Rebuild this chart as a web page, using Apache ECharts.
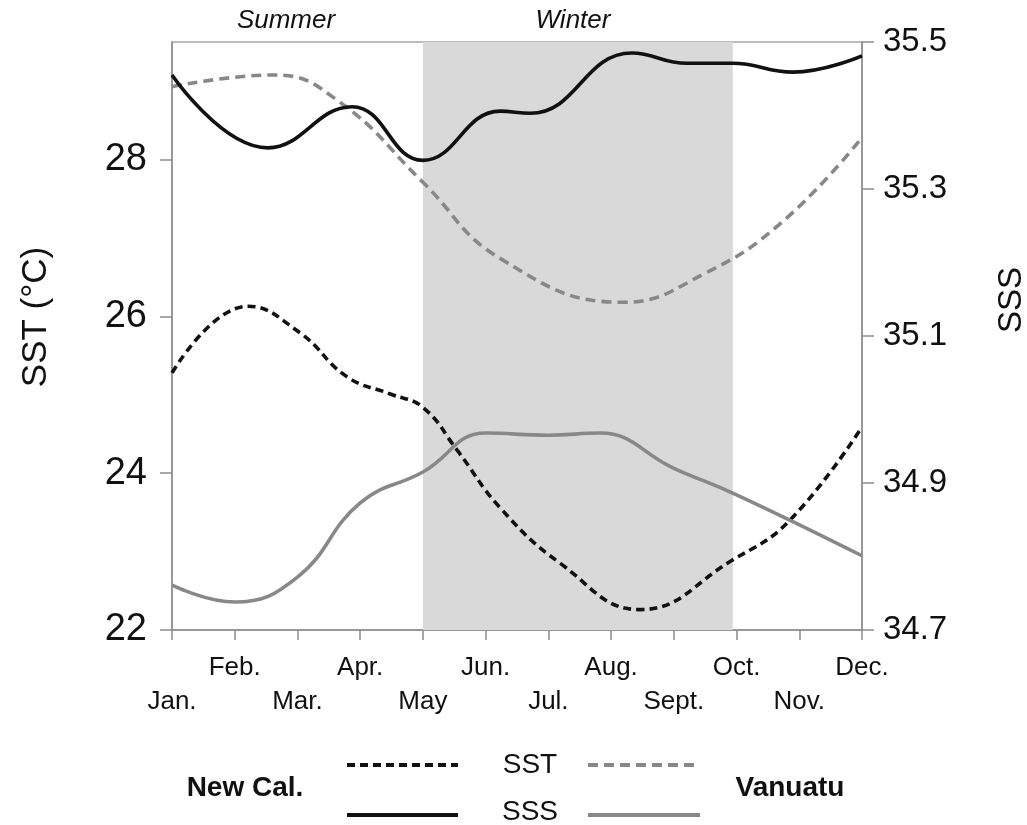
<!DOCTYPE html>
<html>
<head>
<meta charset="utf-8">
<title>SST / SSS</title>
<script src="https://cdn.jsdelivr.net/npm/echarts@6/dist/echarts.min.js"></script>
<style>
  html, body { margin: 0; padding: 0; background: #fff; }
  #main { width: 1027px; height: 825px; }
</style>
</head>
<body>
<div id="main"></div>
<script>
// month labels (x = 1..12)
const months = ['Jan.', 'Feb.', 'Mar.', 'Apr.', 'May', 'Jun.', 'Jul.', 'Aug.', 'Sept.', 'Oct.', 'Nov.', 'Dec.']
const sstTicks = [22, 24, 26, 28]
const sssTicks = [34.7, 34.9, 35.1, 35.3, 35.5]

// [month, value]
const newCalSST = [
  [1, 25.28], [2.21, 26.13], [3.04, 25.79], [3.79, 25.23], [4.48, 25.01], [5, 24.84],
  [5.54, 24.30], [6.23, 23.56], [7.19, 22.85], [8.46, 22.26], [9.93, 22.89],
  [10.85, 23.40], [12, 24.59]
]
const vanuatuSST = [
  [1, 28.93], [2.64, 29.08], [3.68, 28.73], [5, 27.71], [6.23, 26.74],
  [8.19, 26.18], [9.5, 26.55], [10.75, 27.22], [12, 28.28]
]
const newCalSSS = [
  [1, 35.455], [2.53, 35.356], [3.87, 35.412], [5, 35.339], [6.23, 35.406],
  [6.71, 35.403], [8.33, 35.485], [9.21, 35.471], [9.93, 35.471], [10.9, 35.459], [12, 35.481]
]
const vanuatuSSS = [
  [1, 34.761], [2, 34.738], [3, 34.772], [4, 34.873], [5, 34.915], [6, 34.968],
  [7, 34.965], [7.82, 34.968], [9, 34.920], [10, 34.884], [12, 34.801]
]
// shaded winter months
const winterSpan = [5, 9.94]

const font = "'Liberation Sans', Arial, sans-serif"
const chart = echarts.init(document.getElementById('main'))

const monthAxis = (showOdd, margin) => ({
  type: 'value',
  position: 'bottom',
  min: 1,
  max: 12,
  interval: 1,
  axisLine: { show: !showOdd, lineStyle: { color: '#8c8c8c', width: 1.5 } },
  axisTick: { show: !showOdd, length: 10, lineStyle: { color: '#8c8c8c', width: 1.5 } },
  splitLine: { show: false },
  axisLabel: {
    margin: margin,
    fontSize: 26,
    fontFamily: font,
    color: '#111',
    showMinLabel: true,
    showMaxLabel: true,
    formatter: v => {
      const odd = v % 2 === 1
      return odd === showOdd ? months[v - 1] : ''
    }
  }
})

const line = (name, data, yIdx, color, dash) => ({
  name: name,
  type: 'line',
  xAxisIndex: 0,
  yAxisIndex: yIdx,
  data: data,
  smooth: 0.45,
  showSymbol: false,
  z: 3,
  lineStyle: dash ? { color: color, width: 3.6, type: dash } : { color: color, width: 3.6 }
})

const seriesList = [
  line('New Cal. SST', newCalSST, 0, '#111', [8, 5]),
  line('Vanuatu SST', vanuatuSST, 0, '#888', [10, 6]),
  line('New Cal. SSS', newCalSSS, 1, '#111', null),
  line('Vanuatu SSS', vanuatuSSS, 1, '#888', null)
]
seriesList[0].markArea = {
  silent: true,
  itemStyle: { color: '#d9d9d9' },
  data: [[{ xAxis: winterSpan[0] }, { xAxis: winterSpan[1] }]]
}

const label = (x, y, text, fontStr, rotation) => ({
  type: 'text', x: x, y: y, rotation: rotation || 0,
  style: { text: text, font: fontStr, fill: '#111', align: 'center', verticalAlign: 'middle' }
})
const legendLine = (x1, x2, y, color, dash) => ({
  type: 'line',
  shape: { x1: x1, y1: y, x2: x2, y2: y },
  style: { stroke: color, lineWidth: 4, lineDash: dash }
})

const option = {
  animation: false,
  backgroundColor: '#fff',
  grid: {
    left: 172, right: 165, top: 42, bottom: 195,
    containLabel: false, outerBoundsMode: 'none',
    show: true, borderColor: '#a6a6a6', borderWidth: 1.5, backgroundColor: 'transparent'
  },
  xAxis: [monthAxis(false, 25), monthAxis(true, 59)],
  yAxis: [
    {
      type: 'value', min: 22, max: 29.5, interval: 2,
      axisLine: { show: true, lineStyle: { color: '#8c8c8c', width: 1.5 } },
      axisTick: { show: true, length: 12, customValues: sstTicks, lineStyle: { color: '#8c8c8c', width: 1.5 } },
      splitLine: { show: false },
      axisLabel: {
        margin: 25, fontSize: 38, fontFamily: font, color: '#111',
        customValues: sstTicks
      }
    },
    {
      type: 'value', min: 34.7, max: 35.5, interval: 0.2, position: 'right',
      axisLine: { show: true, lineStyle: { color: '#8c8c8c', width: 1.5 } },
      axisTick: { show: true, length: 12, customValues: sssTicks, lineStyle: { color: '#8c8c8c', width: 1.5 } },
      splitLine: { show: false },
      axisLabel: {
        margin: 21, fontSize: 33, fontFamily: font, color: '#111',
        customValues: sssTicks,
        formatter: v => v.toFixed(1)
      }
    }
  ],
  series: seriesList,
  graphic: [
    // axis titles
    label(36, 317, 'SST (°C)', '35px ' + font, Math.PI / 2),
    label(1012, 300, 'SSS', '33px ' + font, Math.PI / 2),
    // seasons
    label(286, 21, 'Summer', 'italic 26px ' + font),
    label(573, 21, 'Winter', 'italic 26px ' + font),
    // legend
    label(245, 788, 'New Cal.', 'bold 28px ' + font),
    label(790, 788, 'Vanuatu', 'bold 28px ' + font),
    label(530, 765, 'SST', '28px ' + font),
    label(530, 812, 'SSS', '28px ' + font),
    legendLine(347, 458, 765, '#111', [8, 5]),
    legendLine(588, 700, 765, '#888', [10, 6]),
    legendLine(347, 458, 815, '#111', null),
    legendLine(588, 700, 815, '#888', null)
  ]
}

chart.setOption(option)
</script>
</body>
</html>
